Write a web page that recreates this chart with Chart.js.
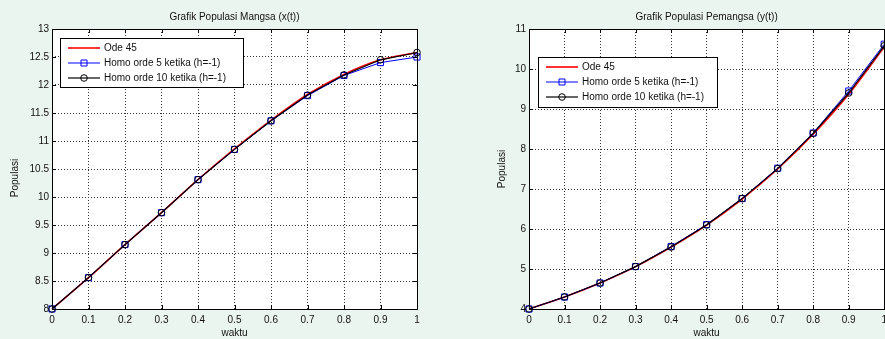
<!DOCTYPE html>
<html>
<head>
<meta charset="utf-8">
<script src="https://cdn.jsdelivr.net/npm/chart.js@4.4.1/dist/chart.umd.min.js"></script>
<style>
  html, body { margin: 0; padding: 0; }
  body { width: 885px; height: 339px; overflow: hidden; position: relative; background: #ebf5f0; }
  canvas { position: absolute; top: 0; }
  #prey { left: 0; }
  #predator { left: 442px; }
</style>
</head>
<body>
<canvas id="prey" width="442" height="339"></canvas>
<canvas id="predator" width="450" height="339"></canvas>
<script>
const waktu = [0, 0.1, 0.2, 0.3, 0.4, 0.5, 0.6, 0.7, 0.8, 0.9, 1];
const xTicks = [0, 0.1, 0.2, 0.3, 0.4, 0.5, 0.6, 0.7, 0.8, 0.9, 1];

// x(t) - mangsa
const mangsaOde45  = [8, 8.56, 9.15, 9.72, 10.31, 10.86, 11.37, 11.83, 12.19, 12.45, 12.58];
const mangsaHomo5  = [8, 8.56, 9.15, 9.72, 10.31, 10.85, 11.36, 11.81, 12.17, 12.40, 12.50];
const mangsaHomo10 = [8, 8.56, 9.15, 9.72, 10.31, 10.85, 11.36, 11.82, 12.18, 12.45, 12.58];
const mangsaTicks  = [8, 8.5, 9, 9.5, 10, 10.5, 11, 11.5, 12, 12.5, 13];

// y(t) - pemangsa
const pemangsaOde45  = [4, 4.30, 4.65, 5.06, 5.55, 6.10, 6.75, 7.50, 8.37, 9.37, 10.55];
const pemangsaHomo5  = [4, 4.30, 4.65, 5.06, 5.56, 6.11, 6.76, 7.52, 8.40, 9.45, 10.62];
const pemangsaHomo10 = [4, 4.30, 4.65, 5.06, 5.55, 6.10, 6.76, 7.51, 8.39, 9.40, 10.58];
const pemangsaTicks  = [4, 5, 6, 7, 8, 9, 10, 11];

const seriesNames = ['Ode 45', 'Homo orde 5 ketika (h=-1)', 'Homo orde 10 ketika (h=-1)'];

const FONT = "'Liberation Sans', Arial, sans-serif";

function pts(ys) {
  return waktu.map((t, i) => ({x: t, y: ys[i]}));
}
function fmt(v) { return String(Math.round(v * 10) / 10); }

function drawMarker(ctx, style, x, y, color) {
  ctx.save();
  ctx.strokeStyle = color;
  ctx.lineWidth = 1;
  ctx.beginPath();
  if (style === 'rect') ctx.rect(x - 3, y - 3, 6, 6);
  else if (style === 'circle') ctx.arc(x, y, 3.3, 0, Math.PI * 2);
  ctx.stroke();
  ctx.restore();
}

const figurePlugin = {
  id: 'figure',
  beforeDraw(chart) {
    const {ctx, chartArea: a} = chart;
    ctx.save();
    ctx.fillStyle = '#ffffff';
    ctx.fillRect(a.left, a.top, a.right - a.left, a.bottom - a.top);
    ctx.restore();
  },
  afterDraw(chart, args, opts) {
    const {ctx, chartArea: a, scales} = chart;
    ctx.save();
    // inner tick marks on all four sides
    ctx.strokeStyle = '#000';
    ctx.lineWidth = 1;
    ctx.beginPath();
    scales.x.ticks.forEach(t => {
      const px = Math.round(scales.x.getPixelForValue(t.value)) + 0.5;
      ctx.moveTo(px, a.bottom); ctx.lineTo(px, a.bottom - 4);
      ctx.moveTo(px, a.top); ctx.lineTo(px, a.top + 4);
    });
    scales.y.ticks.forEach(t => {
      const py = Math.round(scales.y.getPixelForValue(t.value)) + 0.5;
      ctx.moveTo(a.left, py); ctx.lineTo(a.left + 4, py);
      ctx.moveTo(a.right, py); ctx.lineTo(a.right - 4, py);
    });
    ctx.stroke();
    // axes box
    ctx.strokeRect(Math.round(a.left) + 0.5, Math.round(a.top) + 0.5,
                   Math.round(a.right - a.left), Math.round(a.bottom - a.top));

    // texts
    const cx = (a.left + a.right) / 2;
    ctx.fillStyle = '#111';
    ctx.font = '10px ' + FONT;
    ctx.textAlign = 'center';
    ctx.textBaseline = 'middle';
    ctx.fillText(opts.title, cx, a.top - 12);
    ctx.fillText('waktu', cx, a.bottom + 24);
    ctx.save();
    ctx.translate(opts.yLabelX, (a.top + a.bottom) / 2 + (opts.yLabelShift || 0));
    ctx.rotate(-Math.PI / 2);
    ctx.fillText('Populasi', 0, 0);
    ctx.restore();

    // legend box
    const L = opts.legend;
    ctx.fillStyle = '#fff';
    ctx.fillRect(L.x, L.y, L.w, L.h);
    ctx.strokeStyle = '#000';
    ctx.strokeRect(L.x + 0.5, L.y + 0.5, L.w, L.h);
    chart.data.datasets.forEach((ds, i) => {
      const ry = L.y + 10 + i * 15;
      ctx.strokeStyle = ds.borderColor;
      ctx.lineWidth = ds.borderWidth;
      ctx.beginPath();
      ctx.moveTo(L.x + 8, ry); ctx.lineTo(L.x + 40, ry);
      ctx.stroke();
      if (ds.pointRadius > 0) drawMarker(ctx, ds.pointStyle, L.x + 24, ry, ds.pointBorderColor);
      ctx.fillStyle = '#111';
      ctx.textAlign = 'left';
      ctx.fillText(ds.label, L.x + 44, ry + 0.5);
    });
    ctx.restore();
  }
};

function makeChart(id, ode, h5, h10, yTicks, cfg) {
  return new Chart(document.getElementById(id), {
    type: 'line',
    data: {
      datasets: [
        { label: seriesNames[0], data: pts(ode), borderColor: '#ff0000', borderWidth: 1.6,
          pointRadius: 0, cubicInterpolationMode: 'monotone', order: 3 },
        { label: seriesNames[1], data: pts(h5), borderColor: '#0000ff', borderWidth: 1,
          pointStyle: 'rect', pointRadius: 4.3, pointBorderColor: '#0000ff', pointBorderWidth: 1,
          pointBackgroundColor: 'rgba(0,0,0,0)', order: 2 },
        { label: seriesNames[2], data: pts(h10), borderColor: '#000000', borderWidth: 1.2,
          pointStyle: 'circle', pointRadius: 3.3, pointBorderColor: '#000000', pointBorderWidth: 1,
          pointBackgroundColor: 'rgba(0,0,0,0)', order: 1 }
      ]
    },
    options: {
      responsive: false,
      animation: false,
      devicePixelRatio: 1,
      clip: false,
      layout: { padding: { left: 0, right: cfg.padRight, top: 29, bottom: 0 } },
      scales: {
        x: {
          type: 'linear', min: 0, max: 1,
          afterFit: s => { s.height = 30; },
          afterBuildTicks: s => { s.ticks = xTicks.map(v => ({value: v})); },
          grid: { color: '#333', drawTicks: false, lineWidth: 1 },
          border: { display: false, dash: [1, 2] },
          ticks: { padding: 5, color: '#111', font: { family: FONT, size: 10 },
                   maxRotation: 0, autoSkip: false, callback: v => fmt(v) }
        },
        y: {
          type: 'linear', min: yTicks[0], max: yTicks[yTicks.length - 1],
          afterFit: s => { s.width = cfg.yWidth; },
          afterBuildTicks: s => { s.ticks = yTicks.map(v => ({value: v})); },
          grid: { color: '#333', drawTicks: false, lineWidth: 1 },
          border: { display: false, dash: [1, 2] },
          ticks: { padding: 3, color: '#111', font: { family: FONT, size: 10 },
                   autoSkip: false, callback: v => fmt(v) }
        }
      },
      plugins: {
        legend: { display: false },
        tooltip: { enabled: false },
        figure: cfg.figure
      }
    },
    plugins: [figurePlugin]
  });
}

makeChart('prey', mangsaOde45, mangsaHomo5, mangsaHomo10, mangsaTicks, {
  padRight: 25, yWidth: 52,
  figure: { title: 'Grafik Populasi Mangsa (x(t))', yLabelX: 15, yLabelShift: 9,
            legend: { x: 60, y: 38, w: 183, h: 49 } }
});
makeChart('predator', pemangsaOde45, pemangsaHomo5, pemangsaHomo10, pemangsaTicks, {
  padRight: 6, yWidth: 87,
  figure: { title: 'Grafik Populasi Pemangsa (y(t))', yLabelX: 60, yLabelShift: 0,
            legend: { x: 96, y: 57, w: 179, h: 50 } }
});
</script>
</body>
</html>
